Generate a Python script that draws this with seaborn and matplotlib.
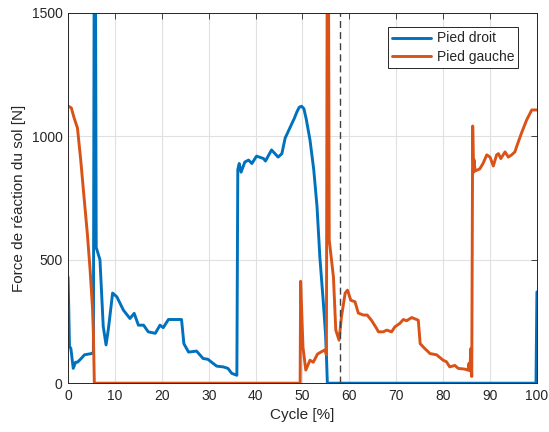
import pandas as pd
import seaborn as sns
import matplotlib.pyplot as plt

# Cycle de marche : force de reaction du sol pour chaque pied
cycle_droit = [0, 0.1, 0.3, 0.6, 1.1, 1.6, 2.0, 2.8, 3.5, 5.0, 5.4, 5.6, 5.8, 6.0, 6.8,
               7.5, 8.1, 8.6, 9.5, 10.4, 11.8, 13.2, 14.1, 15.0, 16.1, 17.1, 18.6,
               19.6, 20.3, 21.4, 24.2, 24.7, 25.7, 27.4, 28.8, 29.8, 31.7, 33.1, 34.1,
               34.9, 36.0, 36.2, 36.5, 36.9, 37.7, 38.5, 39.2, 40.2, 41.7, 42.1, 43.4,
               44.8, 45.6, 46.3, 47.3, 48.3, 48.8, 49.3, 49.8, 50.3, 50.8, 51.6, 52.4,
               53.1, 53.7, 54.4, 54.9, 55.1, 55.3, 99.8, 100]
force_droit = [430, 340, 150, 140, 60, 85, 85, 100, 115, 120, 125, 2000, 2000, 550, 500,
               230, 155, 220, 365, 350, 296, 262, 283, 235, 235, 208, 202,
               235, 225, 258, 258, 160, 126, 130, 100, 97, 69, 66, 60,
               40, 32, 865, 890, 855, 896, 904, 890, 920, 910, 900, 945,
               916, 930, 993, 1034, 1075, 1099, 1118, 1122, 1112, 1070, 985, 865,
               715, 511, 338, 203, 115, 0, 0, 370]

cycle_gauche = [0, 0.7, 1.3, 2.0, 2.7, 3.4, 4.1, 4.7, 5.2, 5.4, 5.6, 49.5, 49.6, 50.1,
                50.7, 51.6, 52.3, 53.2, 54.1, 54.8, 55.1, 55.3, 55.5, 55.7, 56.6, 57.1,
                57.8, 58.3, 59.1, 59.6, 60.3, 61.2, 61.9, 63.0, 63.8, 64.7, 65.8, 66.2,
                67.2, 68.0, 69.0, 69.7, 70.8, 71.5, 72.2, 73.3, 74.7, 75.1, 76.1, 77.2,
                78.6, 80.0, 80.7, 81.4, 82.5, 83.2, 84.6, 85.3, 85.5, 85.7, 85.9, 86.1,
                86.3, 86.5, 86.6, 86.8, 87.8, 88.5, 89.3, 90.0, 90.7, 91.4, 91.8, 92.3,
                93.2, 93.9, 94.6, 95.3, 95.7, 96.7, 97.8, 98.9, 100]
force_gauche = [1123, 1115, 1074, 1034, 904, 754, 608, 458, 308, 203, 0, 0, 413, 146,
                53, 93, 85, 118, 128, 135, 115, 2000, 2000, 580, 430, 215,
                174, 268, 365, 377, 336, 330, 284, 276, 276, 255, 222, 208,
                208, 215, 208, 228, 243, 258, 253, 266, 255, 160, 140, 120,
                115, 93, 87, 66, 72, 60, 57, 53, 80, 50, 140, 27,
                1042, 855, 905, 860, 868, 890, 925, 916, 880, 925, 930, 910,
                937, 916, 925, 937, 960, 1013, 1066, 1107, 1107]

x_ticks = list(range(0, 101, 10))
y_ticks = [0, 500, 1000, 1500]
evenement = 58.1  # ligne verticale en pointilles

droit = pd.DataFrame({'Cycle': cycle_droit, 'Force': force_droit})
gauche = pd.DataFrame({'Cycle': cycle_gauche, 'Force': force_gauche})

sns.set_style('whitegrid')
plt.rcParams['font.family'] = ['Liberation Sans', 'DejaVu Sans']

fig = plt.figure(figsize=(5.49, 4.32), dpi=100)
ax = fig.add_axes([0.124, 0.113, 0.854, 0.857])

sns.lineplot(data=droit, x='Cycle', y='Force', color='#0072BD', lw=2.1,
             label='Pied droit', ax=ax, sort=False)
sns.lineplot(data=gauche, x='Cycle', y='Force', color='#D95319', lw=2.1,
             label='Pied gauche', ax=ax, sort=False)
ax.axvline(evenement, color='#404040', ls='--', lw=1, dashes=(5, 3))

ax.set_xlim(0, 100)
ax.set_ylim(0, 1500)
ax.set_xticks(x_ticks)
ax.set_yticks(y_ticks)
ax.grid(True, color='#e0e0e0', lw=0.8)
ax.tick_params(direction='in', top=True, right=True, length=4, width=0.6,
               colors='#262626', labelsize=10, pad=4)
for s in ax.spines.values():
    s.set_edgecolor('#262626')
    s.set_linewidth(0.7)

ax.set_xlabel('Cycle [%]', fontsize=11, color='#262626')
ax.set_ylabel('Force de réaction du sol [N]', fontsize=11, color='#262626')

leg = ax.legend(loc='upper right', bbox_to_anchor=(0.975, 0.98), fancybox=False,
                framealpha=1, edgecolor='#262626', fontsize=10, handlelength=2.8,
                borderpad=0.3, labelspacing=0.3, handletextpad=0.4)
leg.get_frame().set_linewidth(0.7)

fig.savefig('out.png', dpi=100)
